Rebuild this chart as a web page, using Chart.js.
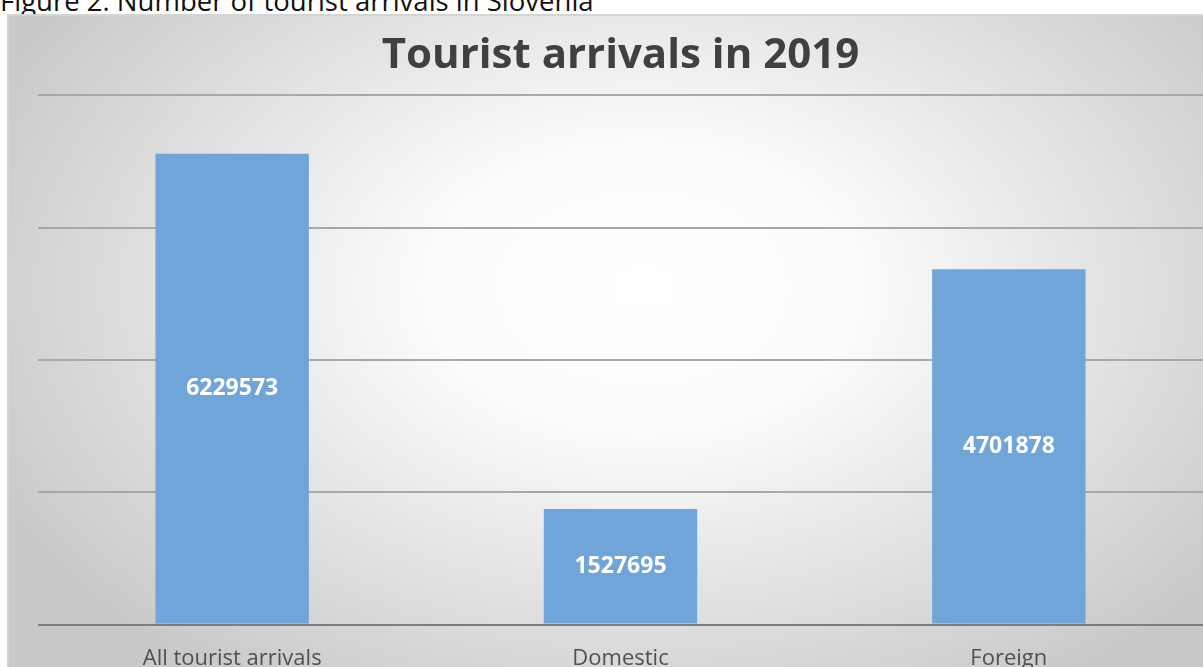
<!DOCTYPE html>
<html>
<head>
<meta charset="utf-8">
<script src="https://cdn.jsdelivr.net/npm/chart.js@4"></script>
<style>
	html, body { margin: 0; padding: 0; background: #fff; overflow: hidden; }
	body { width: 1203px; height: 667px; position: relative; }
	#caption {
		position: absolute; left: 0; top: -12px;
		font-family: 'Open Sans', sans-serif; font-size: 27.5px; line-height: 26px;
		color: #111; white-space: nowrap;
	}
	#box {
		position: absolute; left: 7px; top: 14px; width: 1196px; height: 680px;
		border-left: 2px solid #d4d4d4; border-top: 2px solid #d4d4d4;
		background: radial-gradient(ellipse 60% 70% at 53% 40%, #ffffff 0%, #fbfbfb 30%, #e2e2e2 65%, #c9c9c9 100%);
	}
	#myChart { display: block; }
</style>
</head>
<body>
<div id="caption">Figure 2: Number of tourist arrivals in Slovenia</div>
<div id="box"><canvas id="myChart" width="1194" height="675"></canvas></div>
<script>
	const categories = ['All tourist arrivals', 'Domestic', 'Foreign']
	const arrivals = [6229573, 1527695, 4701878]
	const yMax = 7000000
	const yStep = 1750000

	// values written in the middle of each bar
	const barLabels = {
		id: 'barLabels',
		afterDatasetsDraw(chart) {
			const ctx = chart.ctx
			const meta = chart.getDatasetMeta(0)
			ctx.save()
			ctx.font = 'bold 23px "Open Sans", sans-serif'
			ctx.fillStyle = '#ffffff'
			ctx.textAlign = 'center'
			ctx.textBaseline = 'middle'
			meta.data.forEach((bar, i) => {
				const mid = (bar.y + bar.base) / 2
				ctx.fillText(String(arrivals[i]), bar.x, mid)
			})
			ctx.restore()
		},
	}

	const element = document.getElementById('myChart')
	new Chart(element.getContext('2d'), {
		type: 'bar',
		data: {
			labels: categories,
			datasets: [
				{
					data: arrivals,
					backgroundColor: 'rgb(111, 165, 216)',
					borderWidth: 0,
					categoryPercentage: 1,
					barPercentage: 0.395,
				},
			],
		},
		options: {
			responsive: false,
			animation: false,
			layout: { padding: { left: 29, right: 0, top: 0, bottom: 6 } },
			plugins: {
				legend: { display: false },
				tooltip: { enabled: false },
				title: {
					display: true,
					text: 'Tourist arrivals in 2019',
					color: '#404040',
					font: { family: 'Open Sans', size: 42, weight: 'bold' },
					padding: { top: 15, bottom: 14 },
				},
			},
			scales: {
				x: {
					grid: { display: false },
					border: { display: false },
					ticks: {
						color: '#505050',
						font: { family: 'Open Sans', size: 22 },
						padding: 13,
					},
				},
				y: {
					min: 0,
					max: yMax,
					ticks: { display: false, stepSize: yStep },
					border: { display: false },
					grid: {
						drawTicks: false,
						lineWidth: 2,
						color: (c) => (c.tick && c.tick.value === 0 ? '#7d7d7d' : '#a8a8a8'),
					},
				},
			},
		},
		plugins: [barLabels],
	})
</script>
</body>
</html>
